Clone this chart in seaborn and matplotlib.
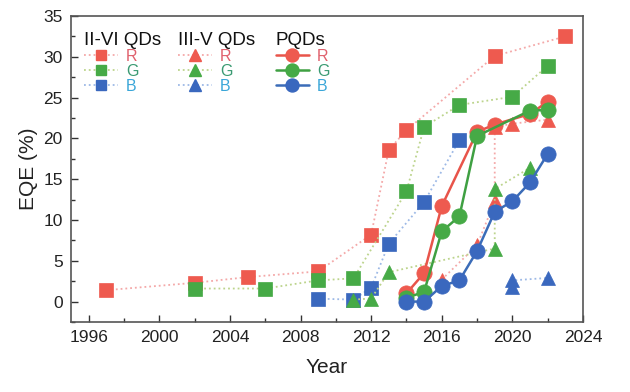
import matplotlib
matplotlib.use("Agg")
import matplotlib.pyplot as plt
from matplotlib.lines import Line2D
from matplotlib.ticker import MultipleLocator
import seaborn as sns

sns.set_style("ticks")
plt.rcParams["font.family"] = ["Liberation Sans", "DejaVu Sans"]

# II-VI QDs (squares, dotted)
iivi_r_year = [1997, 2002, 2005, 2009, 2012, 2013, 2014, 2019, 2023]
iivi_r_eqe = [1.4, 2.3, 3.0, 3.7, 8.2, 18.6, 21.0, 30.1, 32.5]
iivi_g_year = [2002, 2006, 2009, 2011, 2014, 2015, 2017, 2020, 2022]
iivi_g_eqe = [1.6, 1.6, 2.6, 2.85, 13.5, 21.4, 24.1, 25.1, 28.9]
iivi_b_year = [2009, 2011, 2012, 2013, 2015, 2017]
iivi_b_eqe = [0.35, 0.25, 1.7, 7.1, 12.2, 19.8]

# III-V QDs (triangles, dotted)
iiiv_r_year = [2016, 2018, 2019, 2019, 2020, 2022]
iiiv_r_eqe = [2.7, 6.9, 12.3, 21.4, 21.8, 22.3]
iiiv_g_year = [2011, 2012, 2013, 2019, 2019, 2021]
iiiv_g_eqe = [0.25, 0.37, 3.6, 6.5, 13.8, 16.4]
iiiv_b_year = [2020, 2020, 2022]
iiiv_b_eqe = [1.8, 2.6, 2.9]

# PQDs (circles, solid)
pqd_r_year = [2014, 2015, 2016, 2018, 2019, 2021, 2022]
pqd_r_eqe = [1.0, 3.5, 11.7, 20.8, 21.7, 23.0, 24.5]
pqd_g_year = [2014, 2015, 2016, 2017, 2018, 2021, 2022]
pqd_g_eqe = [0.45, 1.2, 8.6, 10.45, 20.3, 23.4, 23.5]
pqd_b_year = [2014, 2015, 2016, 2017, 2018, 2019, 2020, 2021, 2022]
pqd_b_eqe = [0.0, 0.0, 1.9, 2.6, 6.2, 11.0, 12.3, 14.6, 18.1]

RED, GREEN, BLUE = "#EE5A4F", "#46AA46", "#3A68BE"
DOT = {"R": "#F4A8A8", "G": "#BCD48C", "B": "#9DB9E6"}
SOLID = {"R": "#E8544A", "G": "#3FA042", "B": "#3B6CB8"}
LABEL_COL = {"R": "#E0606C", "G": "#3A9A72", "B": "#3AA6D8"}
MARK = {"R": RED, "G": GREEN, "B": BLUE}

fig = plt.figure(figsize=(6.3, 3.92), dpi=100)
ax = fig.add_axes([0.1127, 0.1786, 0.8127, 0.7806])


def draw(x, y, ch, marker, ms, ls, lw, lc, z):
    sns.lineplot(x=x, y=y, ax=ax, estimator=None, sort=False, color=lc,
                 linestyle=ls, linewidth=lw, marker=marker, markersize=ms,
                 markerfacecolor=MARK[ch], markeredgecolor=MARK[ch],
                 markeredgewidth=0.5, zorder=z)


for ch, (x, y) in {"R": (iivi_r_year, iivi_r_eqe), "G": (iivi_g_year, iivi_g_eqe),
                   "B": (iivi_b_year, iivi_b_eqe)}.items():
    draw(x, y, ch, "s", 9.5, ":", 1.3, DOT[ch], 2)
for ch, (x, y) in {"R": (iiiv_r_year, iiiv_r_eqe), "G": (iiiv_g_year, iiiv_g_eqe),
                   "B": (iiiv_b_year, iiiv_b_eqe)}.items():
    draw(x, y, ch, "^", 10, ":", 1.3, DOT[ch], 3)
for ch, (x, y) in {"R": (pqd_r_year, pqd_r_eqe), "G": (pqd_g_year, pqd_g_eqe),
                   "B": (pqd_b_year, pqd_b_eqe)}.items():
    draw(x, y, ch, "o", 11, "-", 1.8, SOLID[ch], 4)

ax.set_xlim(1995, 2024)
ax.set_ylim(-2.5, 35)
ax.xaxis.set_major_locator(MultipleLocator(4))
ax.xaxis.set_minor_locator(MultipleLocator(2))
ax.yaxis.set_major_locator(MultipleLocator(5))
ax.yaxis.set_minor_locator(MultipleLocator(2.5))
ax.tick_params(which="both", direction="in", labelsize=12.5, colors="#333333")
ax.tick_params(which="major", length=5, width=1, pad=6)
ax.tick_params(which="minor", length=3, width=1)
for tl in ax.get_xticklabels() + ax.get_yticklabels():
    tl.set_color("#222222")
for s in ax.spines.values():
    s.set_visible(True)
    s.set_color("#555555")
    s.set_linewidth(1.2)
ax.set_xlabel("Year", fontsize=15, color="#222222", labelpad=9)
ax.set_ylabel("EQE (%)", fontsize=15, color="#222222", labelpad=4)

# three-column legend
groups = [("II-VI QDs", "s", 9, ":", DOT, 0.004),
          ("III-V QDs", "^", 10, ":", DOT, 0.188),
          ("PQDs", "o", 11, "-", SOLID, 0.378)]
for title, marker, ms, ls, lcols, xpos in groups:
    handles = [Line2D([], [], color=lcols[ch], linestyle=ls,
                      linewidth=1.3 if ls == ":" else 1.8, marker=marker,
                      markersize=ms * 0.85, markerfacecolor=MARK[ch],
                      markeredgecolor=MARK[ch]) for ch in "RGB"]
    leg = ax.legend(handles, list("RGB"), title=title, loc="upper left",
                    bbox_to_anchor=(xpos, 0.985), frameon=False, fontsize=11.5,
                    title_fontsize=13.5, handlelength=2.1, handletextpad=0.5,
                    labelspacing=0.0, borderpad=0.2, alignment="left")
    for txt, ch in zip(leg.get_texts(), "RGB"):
        txt.set_color(LABEL_COL[ch])
    leg.get_title().set_color("#111111")
    ax.add_artist(leg)
ax.legend_ = None

fig.savefig("out.png", dpi=100)
